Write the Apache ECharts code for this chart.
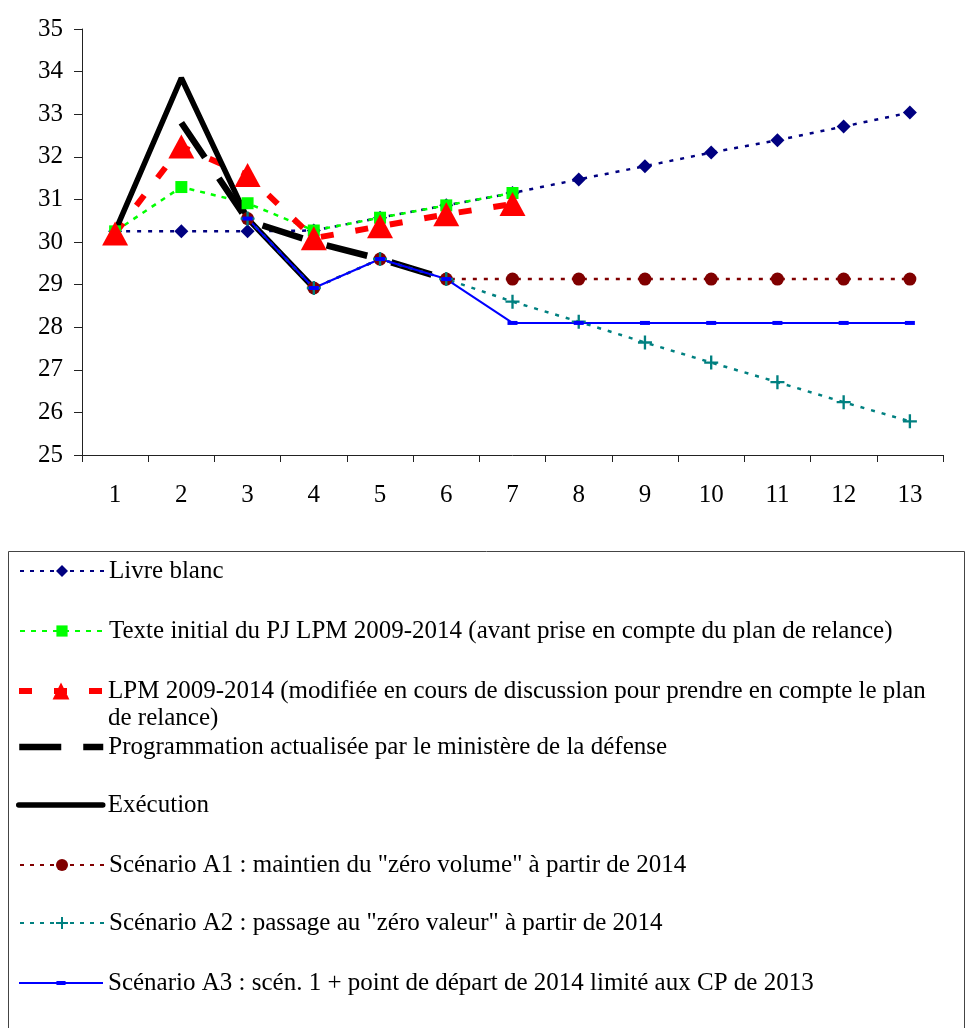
<!DOCTYPE html>
<html>
<head>
<meta charset="utf-8">
<script src="https://cdn.jsdelivr.net/npm/echarts@6/dist/echarts.min.js"></script>
<style>
html,body{margin:0;padding:0;background:#fff;}
#main{width:966px;height:1028px;}
</style>
</head>
<body>
<div id="main"></div>
<script>
const categories = ['1','2','3','4','5','6','7','8','9','10','11','12','13'];
const yTicks = { min: 25, max: 35, interval: 1 };

const livreBlanc   = [30.25, 30.25, 30.25, 30.27, 30.57, 30.86, 31.15, 31.47, 31.78, 32.10, 32.39, 32.71, 33.04];
const texteInitial = [30.25, 31.29, 30.91, 30.27, 30.57, 30.86, 31.15, null, null, null, null, null, null];
const lpm          = [30.20, 32.24, 31.57, 30.09, 30.37, 30.65, 30.89, null, null, null, null, null, null];
const programmation= [null, 32.80, 30.50, 30.00, 29.60, 29.13, null, null, null, null, null, null, null];
const execution    = [30.25, 33.85, 30.55, 28.92, null, null, null, null, null, null, null, null, null];
const scenarioA1   = [null, null, 30.55, 28.92, 29.60, 29.13, 29.13, 29.13, 29.13, 29.13, 29.13, 29.13, 29.13];
const scenarioA2   = [null, null, 30.55, 28.92, 29.60, 29.13, 28.60, 28.13, 27.64, 27.17, 26.71, 26.24, 25.79];
const scenarioA3   = [null, null, 30.55, 28.92, 29.60, 29.13, 28.10, 28.10, 28.10, 28.10, 28.10, 28.10, 28.10];

const names = [
  'Livre blanc',
  'Texte initial du PJ LPM 2009-2014 (avant prise en compte du plan de relance)',
  'LPM 2009-2014 (modifiée en cours de discussion pour prendre en compte le plan de relance)',
  'Programmation actualisée par le ministère de la défense',
  'Exécution',
  'Scénario A1 : maintien du "zéro volume" à partir de 2014',
  'Scénario A2 : passage au "zéro valeur" à partir de 2014',
  'Scénario A3 : scén. 1 + point de départ de 2014 limité aux CP de 2013'
];

const FONT = '"Liberation Serif", "Times New Roman", serif';
const FS = 25;
const plusPath = 'path://M5,0h2v5h5v2h-5v5h-2v-5h-5v-2h5z';

const chart = echarts.init(document.getElementById('main'));

const seriesDefs = [
  { name: names[0], data: livreBlanc, color: '#000080', symbol: 'diamond', symbolSize: 14,
    ls: { width: 2.5, type: [4, 7] } },
  { name: names[1], data: texteInitial, color: '#00ff00', symbol: 'rect', symbolSize: 12,
    ls: { width: 2.5, type: [5, 6] } },
  { name: names[2], data: lpm, color: '#ff0000', symbol: 'triangle', symbolSize: [26, 24],
    ls: { width: 6, type: [13, 22] } },
  { name: names[3], data: programmation, color: '#000000', symbol: 'none',
    ls: { width: 6.5, type: [42, 25] } },
  { name: names[4], data: execution, color: '#000000', symbol: 'none',
    ls: { width: 5.5, type: 'solid' } },
  { name: names[5], data: scenarioA1, color: '#800000', symbol: 'circle', symbolSize: 13,
    ls: { width: 2.5, type: [4, 7] } },
  { name: names[6], data: scenarioA2, color: '#008080', symbol: plusPath, symbolSize: 14,
    ls: { width: 2.5, type: [4, 7] } },
  { name: names[7], data: scenarioA3, color: '#0000ff', symbol: 'rect', symbolSize: [10, 4],
    ls: { width: 2, type: 'solid' } }
];

const series = seriesDefs.map(s => ({
  type: 'line',
  name: s.name,
  data: s.data,
  symbol: s.symbol,
  symbolSize: s.symbolSize,
  showAllSymbol: true,
  connectNulls: false,
  animation: false,
  itemStyle: { color: s.color },
  lineStyle: Object.assign({ color: s.color }, s.ls)
}));

const legendCenters = [570, 630, 690, 746, 804, 864, 922, 982];
const legendItemHeights = [15, 14, 21, 14, 14, 15, 15, 14];
const legendLineWidths = [2, 2, 6, 6.5, 5.5, 2, 2, 2];
const legendLineTypes = [[4, 6], [5, 6], [13, 22], [42, 22], 'solid', [4, 6], [4, 6], 'solid'];
const legendLefts = [19, 19, 16, 16, 16, 19, 19, 19];
const legends = names.map((n, i) => {
  const item = { name: n };
  if (i === 3 || i === 4) item.itemStyle = { opacity: 0 };
  if (i === 7) item.icon = 'path://M0,6h83v2h-83z M37,5h9v4h-9z';
  return {
    orient: 'vertical',
    left: legendLefts[i],
    top: legendCenters[i] - 13,
    padding: 0,
    itemWidth: 84,
    itemHeight: legendItemHeights[i],
    selectedMode: false,
    data: [item],
    lineStyle: { width: legendLineWidths[i], type: legendLineTypes[i], cap: i === 4 ? 'round' : 'butt' },
    formatter: (name) => name.startsWith('LPM') ? 'LPM 2009-2014 (modifiée en cours de discussion pour prendre en compte le plan' : name,
    textStyle: { fontFamily: FONT, fontSize: FS, color: '#000', lineHeight: 28 }
  };
});

chart.setOption({
  animation: false,
  backgroundColor: '#fff',
  grid: { left: 82, top: 29, width: 861, height: 426, containLabel: false },
  xAxis: {
    type: 'category',
    data: categories,
    boundaryGap: true,
    axisLine: { lineStyle: { color: '#222', width: 1 } },
    axisTick: { show: true, inside: false, length: 7, alignWithLabel: false, lineStyle: { color: '#222' } },
    axisLabel: { fontFamily: FONT, fontSize: FS, color: '#000', margin: 28 },
    splitLine: { show: false }
  },
  yAxis: {
    type: 'value',
    min: yTicks.min, max: yTicks.max, interval: yTicks.interval,
    axisLine: { show: true, lineStyle: { color: '#222', width: 1 } },
    axisTick: { show: true, inside: false, length: 8, lineStyle: { color: '#222' } },
    axisLabel: { fontFamily: FONT, fontSize: FS, color: '#000', margin: 19 },
    splitLine: { show: false }
  },
  legend: legends,
  graphic: [
    { type: 'rect', left: 6, top: 549, shape: { x: 0, y: 0, width: 956, height: 500 },
      style: { fill: 'none', stroke: '#444', lineWidth: 1 }, silent: true },
    { type: 'text', left: 108, top: 718 - 14,
      style: { text: 'de relance)', font: FS + 'px ' + FONT, fill: '#000', lineHeight: 28 } }
  ],
  series: series
});
</script>
</body>
</html>
